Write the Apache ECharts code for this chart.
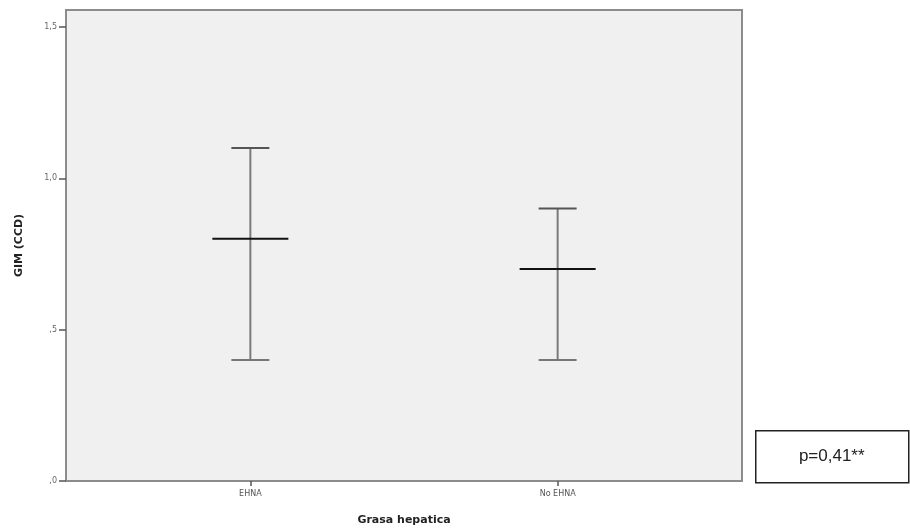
<!DOCTYPE html>
<html>
<head>
<meta charset="utf-8">
<script src="https://cdn.jsdelivr.net/npm/echarts@6/dist/echarts.min.js"></script>
<style>
html,body{margin:0;padding:0;background:#fff;}
#chart{width:910px;height:531px;}
</style>
</head>
<body>
<div id="chart"></div>
<script>
// Data
var categories = ['EHNA', 'No EHNA'];
var means = [0.8, 0.7];
var lowers = [0.4, 0.4];
var uppers = [1.1, 0.9];
var yTicks = [0, 0.5, 1.0, 1.5];
var yTickLabels = [',0', ',5', '1,0', '1,5'];
var annotation = 'p=0,41**';

var errData = categories.map(function (c, i) { return [i, lowers[i], uppers[i], means[i]]; });
var catPositions = categories.map(function (c, i) { return i; });

var chart = echarts.init(document.getElementById('chart'));
chart.setOption({
  animation: false,
  backgroundColor: '#ffffff',
  grid: {
    left: 66, right: 168, top: 10, bottom: 49,
    show: true, backgroundColor: '#f0f0f0', borderColor: '#8c8c8c', borderWidth: 2
  },
  xAxis: {
    type: 'value', min: -0.6, max: 1.6,
    name: 'Grasa hepatica', nameLocation: 'middle', nameGap: 34,
    nameTextStyle: { fontFamily: 'DejaVu Sans', fontWeight: 'bold', fontSize: 11, color: '#222' },
    axisLine: { show: true, onZero: false, lineStyle: { color: '#8c8c8c', width: 2 } },
    axisTick: { show: true, length: 5, lineStyle: { color: '#555', width: 1.5 }, customValues: catPositions },
    axisLabel: {
      customValues: catPositions, margin: 9,
      fontFamily: 'DejaVu Sans', fontSize: 8, color: '#555',
      formatter: function (v) { return categories[Math.round(v)] || ''; }
    },
    splitLine: { show: false }
  },
  yAxis: {
    type: 'value', min: 0, max: 1.556, interval: 0.5,
    name: 'GIM (CCD)', nameLocation: 'middle', nameGap: 41,
    nameTextStyle: { fontFamily: 'DejaVu Sans', fontWeight: 'bold', fontSize: 11, color: '#222' },
    axisLine: { show: true, onZero: false, lineStyle: { color: '#8c8c8c', width: 2 } },
    axisTick: { show: true, length: 7, lineStyle: { color: '#555', width: 1.5 }, customValues: yTicks },
    axisLabel: {
      customValues: yTicks,
      margin: 9, fontFamily: 'DejaVu Sans', fontSize: 8, color: '#666',
      formatter: function (v) {
        for (var i = 0; i < yTicks.length; i++) { if (Math.abs(yTicks[i] - v) < 1e-6) return yTickLabels[i]; }
        return '';
      }
    },
    splitLine: { show: false }
  },
  series: [{
    type: 'custom',
    data: errData,
    encode: { x: 0, y: [1, 2, 3] },
    renderItem: function (params, api) {
      var x = api.value(0);
      var lo = api.coord([x, api.value(1)]);
      var hi = api.coord([x, api.value(2)]);
      var mid = api.coord([x, api.value(3)]);
      var capHalf = 19, meanHalf = 38;
      var grayStyle = { stroke: '#7a7a7a', lineWidth: 2 };
      return {
        type: 'group',
        children: [
          { type: 'line', shape: { x1: hi[0], y1: hi[1], x2: lo[0], y2: lo[1] }, style: grayStyle },
          { type: 'line', shape: { x1: hi[0] - capHalf, y1: hi[1], x2: hi[0] + capHalf, y2: hi[1] }, style: { stroke: '#555', lineWidth: 2 } },
          { type: 'line', shape: { x1: lo[0] - capHalf, y1: lo[1], x2: lo[0] + capHalf, y2: lo[1] }, style: { stroke: '#777', lineWidth: 2 } },
          { type: 'line', shape: { x1: mid[0] - meanHalf, y1: mid[1], x2: mid[0] + meanHalf, y2: mid[1] }, style: { stroke: '#111', lineWidth: 2 } }
        ]
      };
    }
  }],
  graphic: [{
    type: 'group', left: 755, top: 430,
    children: [
      { type: 'rect', shape: { x: 0, y: 0, width: 153, height: 52 }, style: { fill: '#fff', stroke: '#222', lineWidth: 1.5 } },
      { type: 'text', x: 76, y: 26, style: { text: annotation, fontFamily: 'Liberation Sans', fontSize: 17, fill: '#222', align: 'center', verticalAlign: 'middle' } }
    ]
  }]
});
</script>
</body>
</html>
